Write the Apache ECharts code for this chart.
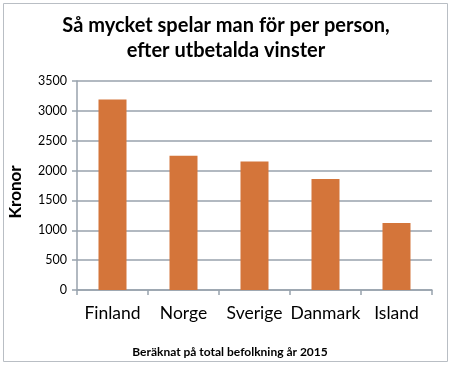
<!DOCTYPE html>
<html><head><meta charset="utf-8">
<script src="https://cdn.jsdelivr.net/npm/echarts@6/dist/echarts.min.js"></script>
<style>html,body{margin:0;padding:0;background:#fff}#c{width:451px;height:366px}</style>
</head><body><div id="c"></div>
<script>
const categories = ["Finland", "Norge", "Sverige", "Danmark", "Island"];
const values = [3190, 2250, 2150, 1860, 1120];
const yTicks = [0, 500, 1000, 1500, 2000, 2500, 3000, 3500];
const titleText = "Så mycket spelar man för per person,\nefter utbetalda vinster";
const yName = "Kronor";
const footText = "Beräknat på total befolkning år 2015";

const font = "Lato, 'Open Sans', sans-serif";
const chart = echarts.init(document.getElementById('c'), null, {renderer: 'canvas'});
chart.setOption({
  animation: false,
  backgroundColor: '#fff',
  graphic: [
    {type: 'rect', shape: {x: 3.5, y: 3.5, width: 444, height: 358}, style: {fill: 'none', stroke: '#b9bec4', lineWidth: 1}},
    {type: 'text', x: 226, y: 38, style: {text: titleText, font: 'bold 20px ' + font, fill: '#000', align: 'center', verticalAlign: 'middle', lineHeight: 25}},
    {type: 'text', x: 230, y: 352, style: {text: footText, font: 'bold 12px ' + font, fill: '#000', align: 'center', verticalAlign: 'middle'}},
    {type: 'text', x: 16, y: 192, rotation: Math.PI/2, style: {text: yName, font: 'bold 17px ' + font, fill: '#000', align: 'center', verticalAlign: 'middle'}}
  ],
  grid: {left: 77, right: 19, top: 81, bottom: 76, containLabel: false},
  xAxis: {
    type: 'category', data: categories,
    axisLine: {lineStyle: {color: '#98a2ad', width: 1.5}},
    axisTick: {show: true, length: 5, alignWithLabel: false, lineStyle: {color: '#98a2ad', width: 1.5}},
    axisLabel: {color: '#000', fontSize: 17.5, fontFamily: font, margin: 14, interval: 0}
  },
  yAxis: {
    type: 'value', min: yTicks[0], max: yTicks[yTicks.length-1], interval: 500,
    axisLine: {show: true, lineStyle: {color: '#98a2ad', width: 1.5}},
    axisTick: {show: true, length: 5, lineStyle: {color: '#98a2ad', width: 1.5}},
    axisLabel: {color: '#000', fontSize: 12.5, fontFamily: font, margin: 10, formatter: v => String(v)},
    splitLine: {show: true, lineStyle: {color: '#98a2ad', width: 1.5}}
  },
  series: [{
    type: 'bar', data: values, barWidth: 28,
    itemStyle: {color: '#D4753A'}
  }]
});
</script></body></html>
